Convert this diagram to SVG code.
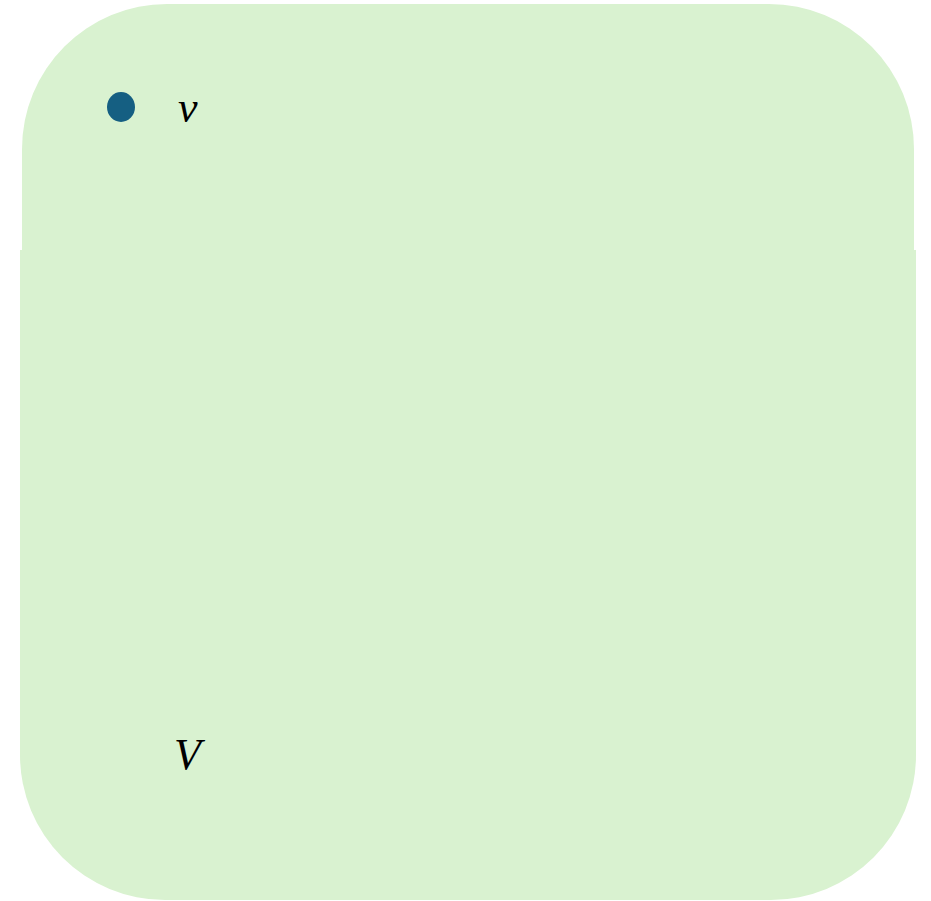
<svg xmlns="http://www.w3.org/2000/svg" width="931" height="901" viewBox="0 0 931 901">
<style>
.region{fill:#d9f2d0;stroke:none}
.lbl{font-family:"Liberation Serif","DejaVu Serif",serif;font-style:italic;font-size:44px;fill:#000}
.pt{fill:#155f82}
</style>
<g id="set-V">
<path class="region" d="M22,251 L22,149 A145,145 0 0 1 167,4 L769,4 A145,145 0 0 1 914,149 L914,251 Z"/>
<path class="region" d="M20,250 L916,250 L916,755 A145,145 0 0 1 771,900 L165,900 A145,145 0 0 1 20,755 Z"/>
<text class="lbl" x="174" y="769">V</text>
</g>
<g id="node-v">
<ellipse class="pt" cx="121" cy="107" rx="14" ry="15"/>
<text class="lbl" x="178" y="122">v</text>
</g>
<g id="connectors"/>
</svg>
